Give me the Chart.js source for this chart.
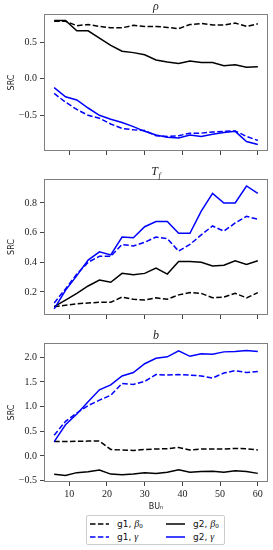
<!DOCTYPE html>
<html>
<head>
<meta charset="utf-8">
<script src="https://cdn.jsdelivr.net/npm/chart.js@4/dist/chart.umd.min.js"></script>
<style>
  body { margin: 0; background: #fff; }
  #wrap { position: relative; width: 273px; height: 550px; overflow: hidden; background: #fff; }
  canvas.panel { position: absolute; left: 0; }
  #legend { position: absolute; left: 86px; top: 515px; width: 137px; height: 28px;
            border: 1px solid #ccc; border-radius: 2px; background: #fff;
            font: 9px "DejaVu Sans", sans-serif; color: #111; }
  #legend .item { position: absolute; height: 11px; line-height: 11px; white-space: nowrap; }
  #legend canvas { position: absolute; left: 0; top: 4px; }
  #legend .txt { position: absolute; left: 27px; top: 0; }
  #legend i { font-family: "Liberation Serif", serif; font-size: 10px; }
  #legend sub { font-family: "Liberation Serif", serif; font-size: 7px; vertical-align: -1px; }
</style>
</head>
<body>
<div id="wrap">
  <canvas id="rho" class="panel" width="273" height="160" style="top:0px"></canvas>
  <canvas id="tf" class="panel" width="273" height="159" style="top:165px"></canvas>
  <canvas id="b" class="panel" width="273" height="183" style="top:329px"></canvas>
  <div id="legend"></div>
</div>
<script>
// x values (BU_n)
const buN = [6, 9, 12, 15, 18, 21, 24, 27, 30, 33, 36, 39, 42, 45, 48, 51, 54, 57, 60];
const xTicks = [10, 20, 30, 40, 50, 60];

// rho panel
const rhoG1Beta0 = [0.79, 0.79, 0.73, 0.745, 0.72, 0.70, 0.70, 0.735, 0.72, 0.72, 0.705, 0.69, 0.745, 0.76, 0.74, 0.74, 0.765, 0.72, 0.755];
const rhoG2Beta0 = [0.80, 0.80, 0.66, 0.66, 0.56, 0.46, 0.38, 0.36, 0.33, 0.26, 0.23, 0.21, 0.245, 0.225, 0.225, 0.18, 0.195, 0.16, 0.165];
const rhoG1Gamma = [-0.20, -0.32, -0.42, -0.50, -0.54, -0.62, -0.68, -0.70, -0.71, -0.78, -0.79, -0.78, -0.745, -0.745, -0.73, -0.72, -0.715, -0.79, -0.845];
const rhoG2Gamma = [-0.12, -0.245, -0.29, -0.40, -0.50, -0.555, -0.60, -0.655, -0.72, -0.77, -0.80, -0.81, -0.77, -0.79, -0.76, -0.735, -0.72, -0.86, -0.90];
const rhoTicks = [-0.5, 0.0, 0.5];

// T_f panel
const tfG1Beta0 = [0.10, 0.11, 0.12, 0.125, 0.13, 0.13, 0.165, 0.15, 0.145, 0.16, 0.15, 0.18, 0.195, 0.19, 0.16, 0.165, 0.19, 0.16, 0.195];
const tfG2Beta0 = [0.10, 0.145, 0.19, 0.24, 0.28, 0.265, 0.325, 0.315, 0.325, 0.36, 0.32, 0.405, 0.405, 0.40, 0.375, 0.38, 0.41, 0.385, 0.41];
const tfG1Gamma = [0.125, 0.22, 0.32, 0.40, 0.44, 0.44, 0.52, 0.51, 0.535, 0.57, 0.56, 0.475, 0.52, 0.585, 0.645, 0.61, 0.665, 0.71, 0.69];
const tfG2Gamma = [0.085, 0.21, 0.31, 0.415, 0.47, 0.45, 0.57, 0.565, 0.64, 0.675, 0.675, 0.595, 0.595, 0.745, 0.865, 0.80, 0.80, 0.915, 0.865];
const tfTicks = [0.2, 0.4, 0.6, 0.8];

// b panel
const bG1Beta0 = [0.29, 0.29, 0.295, 0.30, 0.30, 0.13, 0.12, 0.11, 0.13, 0.14, 0.145, 0.17, 0.12, 0.14, 0.14, 0.14, 0.15, 0.145, 0.12];
const bG2Beta0 = [-0.375, -0.40, -0.34, -0.32, -0.285, -0.37, -0.385, -0.37, -0.34, -0.355, -0.33, -0.28, -0.33, -0.315, -0.31, -0.33, -0.30, -0.315, -0.355];
const bG1Gamma = [0.42, 0.70, 0.87, 1.02, 1.13, 1.23, 1.47, 1.45, 1.51, 1.65, 1.64, 1.65, 1.64, 1.62, 1.58, 1.68, 1.73, 1.69, 1.71];
const bG2Gamma = [0.29, 0.63, 0.85, 1.10, 1.34, 1.44, 1.62, 1.69, 1.87, 1.98, 2.01, 2.13, 2.02, 2.07, 2.06, 2.11, 2.12, 2.14, 2.12];
const bTicks = [-0.5, 0.0, 0.5, 1.0, 1.5, 2.0];

const DASH = [5.5, 2.4];
// legend order: row 1 then row 2
const styles = [
  { name: "g1", sym: "β", sub: "0", color: "#000", dash: DASH },
  { name: "g2", sym: "β", sub: "0", color: "#000", dash: [] },
  { name: "g1", sym: "γ", sub: "", color: "#0000ff", dash: DASH },
  { name: "g2", sym: "γ", sub: "", color: "#0000ff", dash: [] },
];

function fmt(v) {
  const s = Math.abs(v).toFixed(1);
  return v < 0 ? "\u2212" + s : s;
}

// frame around plotting area + panel title
const framePlugin = {
  id: "frame",
  afterDraw(chart, args, opts) {
    const { ctx, chartArea: a } = chart;
    ctx.save();
    ctx.strokeStyle = "#808080";
    ctx.lineWidth = 1;
    ctx.strokeRect(Math.round(a.left) + 0.5, Math.round(a.top) + 0.5,
                   Math.round(a.right - a.left) - 1, Math.round(a.bottom - a.top) - 1);
    // title
    ctx.fillStyle = "#222";
    ctx.textBaseline = "alphabetic";
    ctx.font = 'italic 12px "Liberation Serif"';
    const w1 = ctx.measureText(opts.title).width;
    ctx.font = 'italic 8px "Liberation Serif"';
    const w2 = opts.sub ? ctx.measureText(opts.sub).width + 0.5 : 0;
    const cx = (a.left + a.right) / 2;
    const x0 = cx - (w1 + w2) / 2;
    const by = a.top - 4;
    ctx.font = 'italic 12px "Liberation Serif"';
    ctx.fillText(opts.title, x0, by);
    if (opts.sub) {
      ctx.font = 'italic 8px "Liberation Serif"';
      ctx.fillText(opts.sub, x0 + w1 + 0.5, by + 2.5);
    }
    ctx.restore();
  }
};

function makePanel(id, title, sub, series, yMin, yMax, yTicks, bottom) {
  const datasets = series.map((vals, i) => ({
    label: styles[i].name,
    data: buN.map((x, k) => ({ x: x, y: vals[k] })),
    borderColor: styles[i].color,
    borderDash: styles[i].dash,
    borderWidth: 1.5,
    pointRadius: 0,
    fill: false,
    tension: 0,
    order: 4 - i,
  }));
  return new Chart(document.getElementById(id), {
    type: "line",
    data: { datasets: datasets },
    plugins: [framePlugin],
    options: {
      responsive: false,
      animation: false,
      devicePixelRatio: 1,
      layout: { padding: { top: 14, right: 5, left: 0, bottom: 0 } },
      plugins: {
        legend: { display: false },
        tooltip: { enabled: false },
        frame: { title: title, sub: sub },
      },
      scales: {
        x: {
          type: "linear",
          min: 3.3, max: 62.7,
          afterBuildTicks: s => { s.ticks = xTicks.map(v => ({ value: v })); },
          afterFit: s => { s.height = bottom ? 30 : 8; },
          border: { display: false },
          grid: { drawOnChartArea: false, drawTicks: true, tickLength: 4, color: "#444", tickColor: "#444" },
          ticks: {
            display: bottom, padding: 2, maxRotation: 0, autoSkip: false, color: "#222",
            font: { family: "Liberation Serif", size: 10 },
            callback: v => String(v),
          },
          title: {
            display: bottom, text: "BU\u2099", color: "#222",
            font: { family: "DejaVu Sans", size: 8 }, padding: { top: 0, bottom: 0 },
          },
        },
        y: {
          min: yMin, max: yMax,
          afterBuildTicks: s => { s.ticks = yTicks.map(v => ({ value: v })); },
          afterFit: s => { s.width = 44; },
          border: { display: false },
          grid: { drawOnChartArea: false, drawTicks: true, tickLength: 4, color: "#444", tickColor: "#444" },
          ticks: {
            padding: 3, color: "#222", autoSkip: false,
            font: { family: "Liberation Serif", size: 10 },
            callback: v => fmt(v),
          },
          title: {
            display: true, text: "SRC", color: "#222",
            font: { family: "DejaVu Sans", size: 8 }, padding: { top: 7, bottom: 0 },
          },
        },
      },
    },
  });
}

makePanel("rho", "\u03c1", "", [rhoG1Beta0, rhoG2Beta0, rhoG1Gamma, rhoG2Gamma], -0.99, 0.89, rhoTicks, false);
makePanel("tf", "T", "f", [tfG1Beta0, tfG2Beta0, tfG1Gamma, tfG2Gamma], 0.044, 0.962, tfTicks, false);
makePanel("b", "b", "", [bG1Beta0, bG2Beta0, bG1Gamma, bG2Gamma], -0.53, 2.29, bTicks, true);

// legend
const legend = document.getElementById("legend");
const pos = [[3, 2], [79, 2], [3, 15], [79, 15]];
styles.forEach((st, i) => {
  const item = document.createElement("div");
  item.className = "item";
  item.style.left = pos[i][0] + "px";
  item.style.top = pos[i][1] + "px";
  const c = document.createElement("canvas");
  c.width = 20; c.height = 4;
  const g = c.getContext("2d");
  g.strokeStyle = st.color;
  g.lineWidth = 1.5;
  g.setLineDash(st.dash);
  g.beginPath(); g.moveTo(0, 2); g.lineTo(19, 2); g.stroke();
  item.appendChild(c);
  const t = document.createElement("span");
  t.className = "txt";
  t.innerHTML = st.name + ", <i>" + st.sym + "</i>" + (st.sub ? "<sub>" + st.sub + "</sub>" : "");
  item.appendChild(t);
  legend.appendChild(item);
});
</script>
</body>
</html>
